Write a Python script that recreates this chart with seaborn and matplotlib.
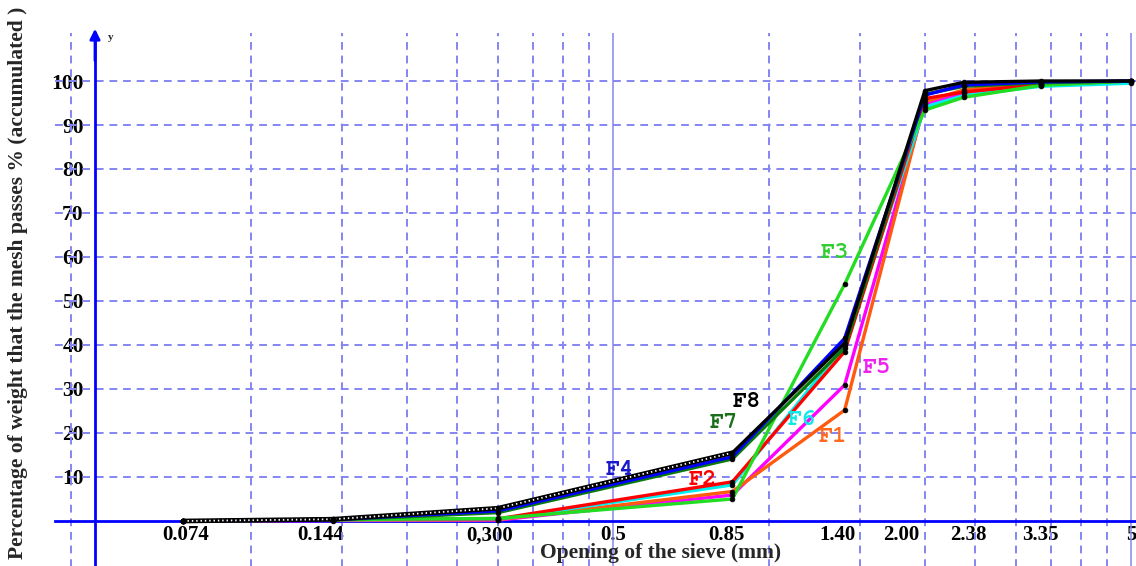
import numpy as np
import pandas as pd
import matplotlib
matplotlib.use("Agg")
import matplotlib.pyplot as plt
import matplotlib.transforms as mtransforms
from matplotlib import font_manager
from matplotlib.ticker import FixedLocator, NullFormatter
import seaborn as sns

# Sieve openings (mm) and cumulative % passing for each mix
sieve_mm = [0.074, 0.144, 0.300, 0.85, 1.40, 2.00, 2.38, 3.35, 5.00]
F1 = [0.0, 0.2, 0.3, 6.7, 25.2, 95.3, 98.0, 99.5, 100.0]
F2 = [0.0, 0.4, 0.5, 8.9, 38.5, 96.0, 97.5, 99.2, 100.0]
F3 = [0.0, 0.3, 0.6, 5.0, 53.8, 93.4, 96.3, 99.0, 100.0]
F4 = [0.0, 0.3, 2.3, 14.6, 41.5, 96.8, 99.1, 99.8, 100.0]
F5 = [0.0, 0.1, 0.2, 5.9, 30.9, 94.8, 97.3, 99.0, 100.0]
F6 = [0.0, 0.3, 0.4, 8.2, 40.0, 94.1, 96.7, 98.8, 99.5]
F7 = [0.0, 0.2, 1.9, 14.1, 39.3, 97.0, 98.8, 99.6, 100.0]
F8 = [0.0, 0.4, 2.9, 15.5, 40.4, 97.8, 99.7, 100.0, 100.0]

series_names = ["F5", "F1", "F6", "F2", "F3", "F7", "F4", "F8"]
series_values = {"F1": F1, "F2": F2, "F3": F3, "F4": F4,
                 "F5": F5, "F6": F6, "F7": F7, "F8": F8}

# x-axis labels
tick_values = [0.074, 0.144, 0.300, 0.5, 0.85, 1.40, 2.00, 2.38, 3.35, 5.0]
tick_labels = ["0.074", "0.144", "0,300", "0.5", "0.85", "1.40", "2.00", "2.38", "3.35", "5"]
y_ticks = [10, 20, 30, 40, 50, 60, 70, 80, 90, 100]

line_colors = {"F1": "#ff5a10", "F2": "#ff0000", "F3": "#22dd22", "F4": "#0000ff",
               "F5": "#ff00ff", "F6": "#00f0f0", "F7": "#0a7a0a", "F8": "#000000"}
label_colors = {"F1": "#ff6a20", "F2": "#ff0000", "F3": "#33cc33", "F4": "#1a1acc",
                "F5": "#ee22ee", "F6": "#10e8e8", "F7": "#1a701a", "F8": "#000000"}

# long-form table for seaborn
df = pd.DataFrame([
    {"series": name, "sieve": s, "passing": v}
    for name in series_names
    for s, v in zip(sieve_mm, series_values[name])
])

sns.set_theme(style="white")
plt.rcParams["font.family"] = ["Liberation Serif", "DejaVu Serif"]

# slab-serif typewriter face for the curve names, else the serif face
installed = {f.name for f in font_manager.fontManager.ttflist}
mono_face = next((n for n in ["Nimbus Mono PS", "FreeMono", "Courier New", "Courier"]
                  if n in installed), "Liberation Serif")

fig = plt.figure(figsize=(11.36, 5.66), dpi=100)
ax = fig.add_axes([0, 0, 1, 1])
ax.set_xscale("log")
ax.set_xlim(0.03278, 5.112)
ax.set_ylim(-10.23, 118.41)
ax.set_facecolor("white")

grid_c = "#8585f2"
y_top = 111
# logarithmic grid: dashed minor lines, solid decade lines
minor_x = [0.045] + list(np.arange(0.1, 0.451, 0.05)) + list(np.arange(1.0, 4.51, 0.5))
ax.vlines(minor_x, -10.5, y_top, colors=grid_c, linestyles=(0, (4, 3)), lw=1.4, zorder=1)
ax.vlines([0.5, 5.0], -10.5, y_top, colors=grid_c, lw=1.1, zorder=1)
ax.hlines(y_ticks, 0.0419, 5.112, colors=grid_c, linestyles=(0, (4, 3)), lw=1.4, zorder=1)

# curves
sns.lineplot(data=df, x="sieve", y="passing", hue="series", hue_order=series_names,
             palette=line_colors, sort=False, lw=2.4, legend=False, ax=ax, zorder=3)
# beaded look on the F8 curve over the fine fraction
fine = df[(df["series"] == "F8") & (df["sieve"] <= 0.85)]
ax.plot(fine["sieve"], fine["passing"], color="black", lw=3.4, zorder=4)
ax.plot(fine["sieve"], fine["passing"], color="white", lw=1.3,
        linestyle=(0, (0.8, 1.6)), zorder=4.5)
sns.scatterplot(data=df, x="sieve", y="passing", color="black", s=12,
                edgecolor="black", linewidth=0.5, legend=False, ax=ax, zorder=5)

# axes through the origin
for side in ("top", "right"):
    ax.spines[side].set_visible(False)
ax.spines["left"].set_position(("data", 0.05))
ax.spines["left"].set_bounds(-10.5, y_top)
ax.spines["bottom"].set_position(("data", 0))
ax.spines["bottom"].set_bounds(0.0419, 5.112)
for side in ("left", "bottom"):
    ax.spines[side].set_color("#0000ff")
    ax.spines[side].set_linewidth(2)
    ax.spines[side].set_zorder(2)
ax.annotate("", xy=(0.05, 112.5), xytext=(0.05, 104),
            arrowprops=dict(arrowstyle="-|>,head_length=0.5,head_width=0.25",
                            color="#0000ff", lw=2))
ax.text(0.0537, 109.8, "y", fontsize=8, fontweight="bold", ha="center", va="center")

ax.set_yticks(y_ticks)
ax.tick_params(axis="y", direction="out", length=7, width=2, color="#0000ff",
               pad=1, labelsize=15.5, labelcolor="black")
ax.set_xticks(tick_values, labels=tick_labels)
ax.xaxis.set_minor_locator(FixedLocator([0.5, 5.0]))
ax.xaxis.set_minor_formatter(NullFormatter())
ax.tick_params(axis="x", which="major", length=0, pad=3, labelsize=15, labelcolor="black")
ax.tick_params(axis="x", which="minor", direction="out", length=7, width=2, color="#0000ff")
for lab in ax.get_yticklabels() + ax.get_xticklabels():
    lab.set_fontweight("bold")
ax.set_xlabel("")
ax.set_ylabel("")

# nudge some sieve labels sideways (pixels)
label_shift = [2, -12, -8, 0, -6, -7, -24, 4, -1, 0]
for lab, dx in zip(ax.get_xticklabels(), label_shift):
    lab.set_transform(lab.get_transform()
                      + mtransforms.ScaledTranslation(dx / 100, 0, fig.dpi_scale_trans))

# curve names
name_pos = {"F3": (1.34, 60.9), "F5": (1.617, 34.8), "F1": (1.33, 19.1),
            "F6": (1.16, 23.0), "F8": (0.907, 27.0), "F7": (0.82, 22.3),
            "F4": (0.516, 11.6), "F2": (0.746, 9.3)}
for name, (xv, yv) in name_pos.items():
    ax.text(xv, yv, name, color=label_colors[name], fontsize=17, fontweight="bold",
            family=[mono_face, "DejaVu Serif"], ha="center", va="center", zorder=6)

fig.text(661 / 1136, 1 - 553 / 566, "Opening of the sieve (mm)", fontsize=15.5,
         fontweight="bold", ha="center", va="center")
fig.text(18 / 1136, 0.5, "Percentage of weight that the mesh passes % (accumulated )",
         fontsize=15.5, fontweight="bold", ha="center", va="center", rotation=90)

fig.savefig("out.png", dpi=100)
